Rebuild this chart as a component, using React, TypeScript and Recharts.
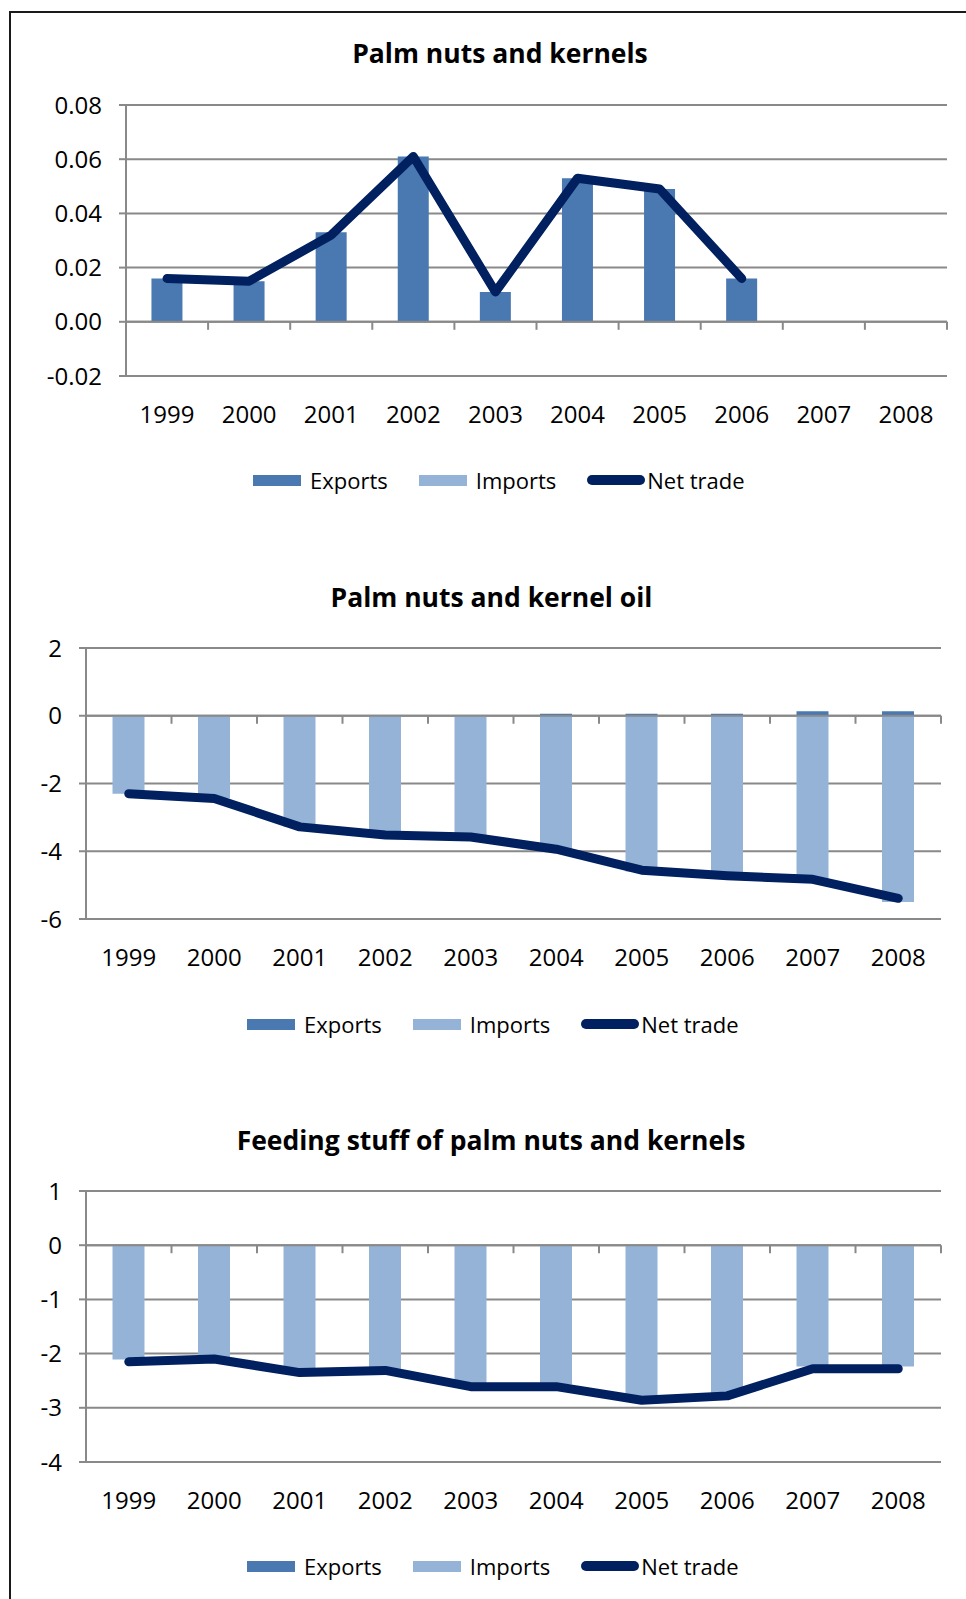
import { ComposedChart, Bar, Line, XAxis, YAxis, CartesianGrid, Legend, ReferenceLine } from "recharts";

const FONT = "'Open Sans', 'Noto Sans', sans-serif";
const GRID = "#898989";
const EXPORTS_COLOR = "#4A78B1";
const IMPORTS_COLOR = "#95B3D7";
const NET_COLOR = "#002060";

const years = ["1999", "2000", "2001", "2002", "2003", "2004", "2005", "2006", "2007", "2008"];

// Palm nuts and kernels
const kernelsExports = [0.016, 0.015, 0.033, 0.061, 0.011, 0.053, 0.049, 0.016, null, null];
const kernelsImports = [0, 0, 0, 0, 0, 0, 0, 0, null, null];
const kernelsNet = [0.016, 0.015, 0.032, 0.061, 0.011, 0.053, 0.049, 0.016, null, null];
const kernelsTicks = [-0.02, 0, 0.02, 0.04, 0.06, 0.08];

// Palm nuts and kernel oil
const oilExports = [0, 0, 0, 0, 0, 0.06, 0.06, 0.06, 0.13, 0.13];
const oilImports = [-2.3, -2.44, -3.28, -3.52, -3.58, -3.98, -4.6, -4.76, -4.93, -5.5];
const oilNet = [-2.3, -2.44, -3.28, -3.52, -3.58, -3.94, -4.56, -4.72, -4.83, -5.39];
const oilTicks = [-6, -4, -2, 0, 2];

// Feeding stuff of palm nuts and kernels
const feedExports = [0, 0, 0, 0, 0, 0, 0, 0, 0, 0];
const feedImports = [-2.11, -2.07, -2.32, -2.28, -2.57, -2.57, -2.82, -2.75, -2.24, -2.24];
const feedNet = [-2.15, -2.1, -2.35, -2.31, -2.61, -2.61, -2.86, -2.78, -2.28, -2.28];
const feedTicks = [-4, -3, -2, -1, 0, 1];

const buildRows = (exp: (number | null)[], imp: (number | null)[], net: (number | null)[]) =>
  years.map((year, i) => ({ year, exports: exp[i], imports: imp[i], net: net[i] }));

// zero line with downward tick marks at the category boundaries
const zeroAxis = (n: number) => (props: any) => {
  const { x1, x2, y1 } = props;
  const step = (x2 - x1) / n;
  return (
    <g>
      <line x1={x1} x2={x2} y1={y1} y2={y1} stroke={GRID} strokeWidth={2} />
      {Array.from({ length: n + 1 }, (_, i) => (
        <line key={i} x1={x1 + i * step} x2={x1 + i * step} y1={y1} y2={y1 + 8} stroke={GRID} strokeWidth={2} />
      ))}
    </g>
  );
};

function LegendBox({ payload }: any) {
  return (
    <div style={{ display: "flex", alignItems: "center", height: 30, fontFamily: FONT, fontSize: 22, color: "#000", whiteSpace: "nowrap" }}>
      {(payload || []).map((p: any) =>
        p.type === "line" ? (
          <span key={p.value} style={{ display: "flex", alignItems: "center" }}>
            <svg width={58} height={12} style={{ marginRight: 2 }}>
              <line x1={5} x2={53} y1={6} y2={6} stroke={p.color} strokeWidth={10} strokeLinecap="round" />
            </svg>
            <span>{p.value}</span>
          </span>
        ) : (
          <span key={p.value} style={{ display: "flex", alignItems: "center", marginRight: 31 }}>
            <span style={{ display: "inline-block", width: 48, height: 11, background: p.color, marginRight: 9 }} />
            <span>{p.value}</span>
          </span>
        )
      )}
    </div>
  );
}

interface PanelProps {
  title: string;
  titleX: number;
  titleY: number;
  top: number;
  height: number;
  plotTop: number;
  axisWidth: number;
  right: number;
  xAxisHeight: number;
  ticks: number[];
  digits: number;
  legendLeft: number;
  legendTop: number;
  rows: any[];
}

function Panel(p: PanelProps) {
  return (
    <>
      <div
        style={{
          position: "absolute",
          left: p.titleX - 350,
          width: 700,
          top: p.titleY - 17,
          textAlign: "center",
          fontFamily: FONT,
          fontWeight: 700,
          fontSize: 26.5,
          lineHeight: "32px",
          color: "#000",
        }}
      >
        {p.title}
      </div>
      <div style={{ position: "absolute", left: 0, top: p.top, width: 966, height: p.height }}>
        <ComposedChart
          width={966}
          height={p.height}
          data={p.rows}
          margin={{ top: p.plotTop, right: p.right, bottom: 0, left: 0 }}
          stackOffset="sign"
          barCategoryGap="31%"
        >
          <CartesianGrid vertical={false} stroke={GRID} strokeWidth={2} />
          <XAxis
            dataKey="year"
            interval={0}
            height={p.xAxisHeight}
            axisLine={false}
            tickLine={false}
            tickSize={0}
            tickMargin={30}
            tick={{ fontSize: 24, fill: "#000", fontFamily: FONT }}
          />
          <YAxis
            type="number"
            width={p.axisWidth}
            domain={[p.ticks[0], p.ticks[p.ticks.length - 1]]}
            ticks={p.ticks}
            interval={0}
            allowDataOverflow
            tickSize={7}
            tickMargin={17}
            axisLine={{ stroke: GRID, strokeWidth: 2 }}
            tickLine={{ stroke: GRID, strokeWidth: 2 }}
            tick={{ fontSize: 24, fill: "#000", fontFamily: FONT }}
            tickFormatter={(v: number) => v.toFixed(p.digits)}
          />
          <Bar dataKey="exports" name="Exports" stackId="t" fill={EXPORTS_COLOR} isAnimationActive={false} />
          <Bar dataKey="imports" name="Imports" stackId="t" fill={IMPORTS_COLOR} isAnimationActive={false} />
          <ReferenceLine y={0} shape={zeroAxis(years.length)} />
          <Line
            type="linear"
            dataKey="net"
            name="Net trade"
            stroke={NET_COLOR}
            strokeWidth={9}
            strokeLinecap="round"
            strokeLinejoin="round"
            dot={false}
            activeDot={false}
            isAnimationActive={false}
          />
          <Legend
            layout="horizontal"
            verticalAlign="middle"
            align="center"
            content={<LegendBox />}
            wrapperStyle={{ left: p.legendLeft, top: p.legendTop, width: 560, height: 30 }}
          />
        </ComposedChart>
      </div>
    </>
  );
}

export default function App() {
  return (
    <div style={{ position: "absolute", left: 0, top: 0, width: 966, height: 1599, overflow: "hidden", background: "#fff" }}>
      <div
        style={{
          position: "absolute",
          left: 9,
          top: 11,
          width: 980,
          height: 1620,
          borderLeft: "2px solid #1a1a1a",
          borderTop: "2px solid #1a1a1a",
        }}
      />
      <Panel
        title="Palm nuts and kernels"
        titleX={500}
        titleY={54}
        top={0}
        height={520}
        plotTop={105}
        axisWidth={126}
        right={19}
        xAxisHeight={144}
        ticks={kernelsTicks}
        digits={2}
        legendLeft={253}
        legendTop={465}
        rows={buildRows(kernelsExports, kernelsImports, kernelsNet)}
      />
      <Panel
        title="Palm nuts and kernel oil"
        titleX={491.5}
        titleY={597.5}
        top={520}
        height={520}
        plotTop={128}
        axisWidth={86}
        right={25}
        xAxisHeight={121}
        ticks={oilTicks}
        digits={0}
        legendLeft={247}
        legendTop={489}
        rows={buildRows(oilExports, oilImports, oilNet)}
      />
      <Panel
        title="Feeding stuff of palm nuts and kernels"
        titleX={491}
        titleY={1141}
        top={1040}
        height={559}
        plotTop={151}
        axisWidth={86}
        right={25}
        xAxisHeight={137}
        ticks={feedTicks}
        digits={0}
        legendLeft={247}
        legendTop={511}
        rows={buildRows(feedExports, feedImports, feedNet)}
      />
    </div>
  );
}
